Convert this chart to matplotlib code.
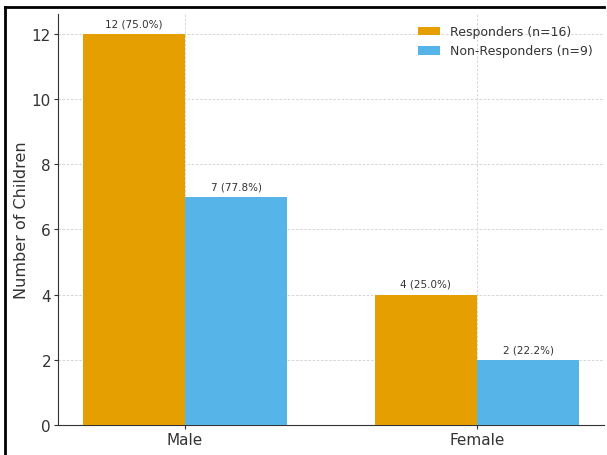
import matplotlib
matplotlib.use("Agg")
import matplotlib.pyplot as plt
import numpy as np
from matplotlib.lines import Line2D

categories = ["Male", "Female"]
responders = [12, 4]
non_responders = [7, 2]
resp_pct = [75.0, 25.0]
nonresp_pct = [77.8, 22.2]
series_names = ["Responders (n=16)", "Non-Responders (n=9)"]
colors = ["#E69F00", "#56B4E9"]

fig = plt.figure(figsize=(6.07, 4.56), dpi=100)
ax = fig.add_axes([58 / 607, 1 - 426 / 456, (604 - 58) / 607, (426 - 15) / 456])

x = np.arange(len(categories))
width = 0.35
b1 = ax.bar(x - width / 2, responders, width, color=colors[0], label=series_names[0], zorder=3)
b2 = ax.bar(x + width / 2, non_responders, width, color=colors[1], label=series_names[1], zorder=3)

for bars, vals, pcts in [(b1, responders, resp_pct), (b2, non_responders, nonresp_pct)]:
    for bar, v, p in zip(bars, vals, pcts):
        ax.annotate(f"{v} ({p:.1f}%)", (bar.get_x() + bar.get_width() / 2, v),
                    xytext=(0, 4), textcoords="offset points", ha="center", va="bottom",
                    fontsize=7.5, color="#333333")

ax.set_xticks(x)
ax.set_xticklabels(categories)
ax.set_ylabel("Number of Children", fontsize=11.5, color="#333333", labelpad=2)
ax.tick_params(axis="both", labelsize=11, colors="#333333", length=3, pad=2)
ax.grid(True, linestyle=(0, (3, 2)), color="#cfcfcf", linewidth=0.6, zorder=0)
ax.set_axisbelow(True)
for side in ["top", "right"]:
    ax.spines[side].set_visible(False)
for side in ["left", "bottom"]:
    ax.spines[side].set_color("#333333")

ax.legend(loc="upper right", frameon=False, fontsize=9, labelcolor="#333333",
          handlelength=1.8)

# outer frame
fig.add_artist(Line2D([5 / 607, 5 / 607], [0, 1 - 8 / 456], color="black", linewidth=2, transform=fig.transFigure))
fig.add_artist(Line2D([5 / 607, 604 / 607], [1 - 8 / 456, 1 - 8 / 456], color="black", linewidth=2, transform=fig.transFigure))

fig.savefig("out.png", dpi=100)
